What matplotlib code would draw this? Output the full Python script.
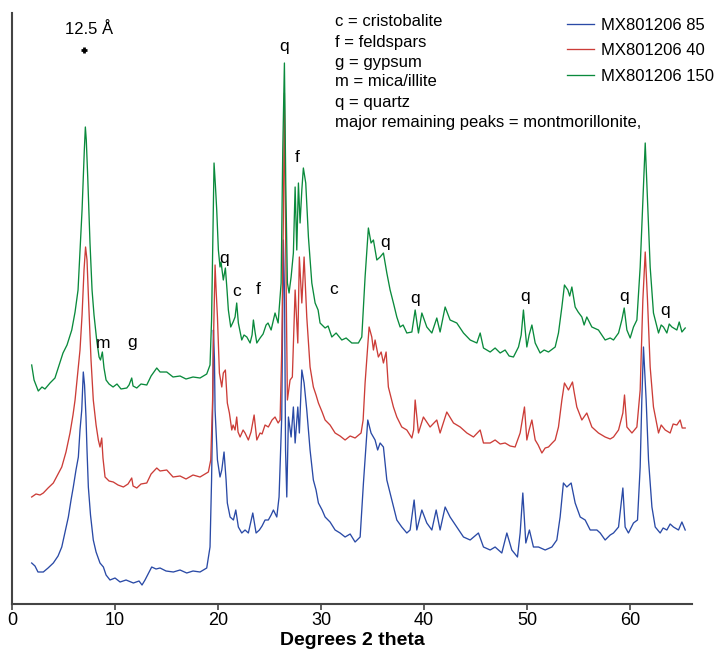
import matplotlib.pyplot as plt

# XRD patterns, stacked (offset already included in the counts)
theta_85 = [1.91, 2.23, 2.52, 3.04, 3.50, 4.01, 4.47, 4.83, 5.15, 5.47, 5.73, 5.95, 6.21, 6.44, 6.60, 6.77,
            6.92, 7.04, 7.18, 7.28, 7.41, 7.62, 7.89, 8.16, 8.54, 8.87, 9.13, 9.51, 10.00, 10.49, 11.07, 11.78,
            12.33, 12.62, 12.91, 13.56, 13.98, 14.37, 14.95, 15.66, 16.31, 16.96, 17.57, 18.25, 18.90, 19.22,
            19.37, 19.49, 19.55, 19.65, 19.71, 19.94, 20.19, 20.36, 20.58, 20.78, 20.90, 21.17, 21.49, 21.72,
            21.97, 22.30, 22.62, 22.94, 23.37, 23.69, 24.01, 24.27, 24.56, 24.88, 25.15, 25.37, 25.70, 25.92,
            26.18, 26.34, 26.46, 26.55, 26.67, 26.83, 27.09, 27.31, 27.48, 27.74, 27.89, 28.13, 28.35, 28.61,
            28.93, 29.25, 29.51, 29.74, 30.10, 30.39, 30.87, 31.36, 31.84, 32.33, 32.82, 33.30, 33.79, 34.11,
            34.53, 34.85, 35.24, 35.49, 35.73, 36.05, 36.38, 36.86, 37.35, 37.83, 38.32, 38.64, 39.03, 39.29,
            39.78, 40.26, 40.75, 41.17, 41.55, 42.04, 42.52, 43.17, 43.82, 44.47, 45.27, 45.76, 46.41, 46.89,
            47.54, 48.03, 48.51, 49.06, 49.32, 49.58, 49.87, 50.22, 50.61, 51.10, 51.75, 52.40, 52.88, 53.20,
            53.52, 53.85, 54.27, 54.66, 55.15, 55.63, 56.12, 56.77, 57.09, 57.57, 58.06, 58.38, 58.87, 59.29,
            59.51, 59.83, 60.32, 60.71, 60.97, 61.13, 61.29, 61.55, 61.78, 62.11, 62.43, 62.91, 63.20, 63.56,
            63.88, 64.20, 64.69, 65.02, 65.34]
counts_85 = [41, 38, 32, 32, 36, 41, 48, 57, 72, 87, 104, 117, 134, 147, 174, 194,
             232, 219, 187, 154, 117, 89, 64, 52, 41, 37, 29, 24, 26, 22, 24, 21,
             23, 19, 24, 37, 35, 36, 33, 32, 34, 31, 33, 32, 36, 57,
             124, 204, 274, 244, 194, 144, 127, 134, 152, 124, 101, 87, 84, 94,
             77, 71, 74, 71, 91, 71, 74, 78, 84, 84, 89, 94, 87, 107,
             187, 364, 304, 154, 107, 187, 167, 197, 161, 197, 171, 234, 221, 194,
             154, 124, 114, 101, 94, 87, 82, 74, 71, 67, 70, 62, 67, 121,
             184, 171, 164, 154, 161, 157, 124, 104, 84, 77, 71, 74, 104, 74,
             94, 81, 74, 94, 74, 97, 87, 77, 67, 64, 71, 57, 54, 57,
             51, 71, 54, 47, 71, 111, 61, 74, 57, 57, 54, 57, 64, 87,
             121, 117, 121, 101, 87, 84, 74, 74, 71, 64, 69, 71, 77, 116,
             77, 71, 81, 84, 137, 204, 257, 204, 144, 97, 77, 71, 76, 74,
             80, 77, 74, 82, 74]

theta_40 = [1.91, 2.33, 2.72, 3.04, 3.50, 4.01, 4.47, 4.83, 5.24, 5.63, 5.92, 6.12, 6.31, 6.60, 6.80, 6.99,
            7.14, 7.28, 7.43, 7.67, 7.89, 8.16, 8.38, 8.54, 8.71, 8.83, 9.03, 9.42, 9.83, 10.29, 10.81, 11.26,
            11.62, 11.75, 12.11, 12.52, 13.08, 13.50, 14.05, 14.37, 15.02, 15.63, 16.31, 16.89, 17.57, 18.25,
            19.06, 19.29, 19.47, 19.55, 19.71, 19.81, 19.94, 20.13, 20.36, 20.51, 20.71, 20.90, 21.10, 21.33,
            21.46, 21.65, 21.81, 21.94, 22.14, 22.43, 22.62, 22.94, 23.20, 23.50, 23.76, 24.08, 24.27, 24.56,
            24.88, 25.24, 25.53, 25.83, 26.02, 26.18, 26.34, 26.44, 26.57, 26.73, 26.99, 27.21, 27.48, 27.74,
            27.89, 28.13, 28.35, 28.61, 28.93, 29.25, 29.51, 29.74, 30.10, 30.39, 30.87, 31.36, 31.84, 32.33,
            32.82, 33.30, 33.88, 34.08, 34.27, 34.66, 34.92, 35.08, 35.24, 35.56, 35.83, 36.05, 36.31, 36.53,
            37.02, 37.35, 37.83, 38.32, 38.81, 38.98, 39.13, 39.45, 39.93, 40.58, 41.23, 41.55, 42.20, 42.85,
            43.50, 44.15, 44.79, 45.44, 45.76, 46.41, 46.89, 47.38, 47.86, 48.35, 48.83, 49.32, 49.74, 49.97,
            50.19, 50.46, 50.78, 51.07, 51.43, 51.75, 52.07, 52.43, 52.72, 53.04, 53.37, 53.62, 54.01, 54.40,
            54.56, 54.82, 55.31, 55.79, 56.28, 56.60, 56.92, 57.57, 58.06, 58.38, 58.87, 59.29, 59.45, 59.68,
            60.17, 60.65, 60.97, 61.23, 61.46, 61.68, 61.94, 62.26, 62.75, 63.01, 63.40, 63.88, 64.17, 64.53,
            64.85, 65.05, 65.34]
counts_40 = [107, 110, 109, 111, 116, 121, 130, 137, 152, 171, 189, 204, 224, 254, 289, 334,
             357, 344, 304, 244, 204, 179, 164, 157, 166, 146, 127, 123, 122, 119, 117, 120,
             126, 118, 116, 120, 121, 130, 136, 133, 134, 127, 128, 125, 129, 127,
             132, 144, 204, 261, 339, 314, 287, 231, 217, 231, 234, 201, 191, 174,
             179, 174, 187, 172, 167, 174, 171, 164, 172, 189, 164, 171, 170, 179,
             177, 184, 187, 181, 184, 254, 387, 511, 354, 204, 224, 227, 314, 261,
             347, 301, 347, 287, 237, 217, 209, 201, 192, 184, 179, 171, 168, 164,
             168, 166, 171, 184, 221, 277, 267, 254, 264, 247, 252, 241, 252, 217,
             197, 187, 177, 174, 166, 174, 204, 171, 187, 177, 184, 171, 192, 181,
             177, 171, 167, 174, 161, 161, 164, 160, 161, 158, 157, 171, 197, 164,
             174, 184, 164, 159, 151, 156, 157, 161, 164, 177, 204, 221, 214, 222,
             212, 197, 184, 191, 177, 174, 171, 167, 165, 167, 174, 191, 209, 177,
             171, 177, 214, 304, 352, 304, 237, 197, 171, 179, 174, 171, 180, 179,
             184, 176, 176]

theta_150 = [1.91, 2.14, 2.55, 2.91, 3.20, 3.69, 4.17, 4.95, 5.34, 5.80, 6.12, 6.41, 6.60, 6.80, 7.02, 7.12,
             7.21, 7.35, 7.57, 7.77, 7.96, 8.22, 8.45, 8.59, 8.77, 8.93, 9.13, 9.42, 9.81, 10.19, 10.58, 11.14,
             11.36, 11.62, 11.75, 12.11, 12.52, 13.08, 13.50, 14.05, 14.37, 15.02, 15.63, 16.31, 16.89, 17.57,
             18.25, 18.90, 19.22, 19.37, 19.49, 19.61, 19.74, 19.87, 20.03, 20.19, 20.29, 20.51, 20.71, 20.87,
             21.00, 21.23, 21.46, 21.65, 21.81, 21.97, 22.30, 22.52, 22.79, 23.11, 23.30, 23.43, 23.59, 23.76,
             24.08, 24.37, 24.66, 24.85, 25.15, 25.53, 25.83, 26.12, 26.28, 26.44, 26.57, 26.73, 26.89, 27.09,
             27.31, 27.48, 27.64, 27.80, 27.96, 28.13, 28.28, 28.51, 28.77, 29.10, 29.42, 29.71, 29.90, 30.39,
             30.68, 31.04, 31.46, 32.01, 32.43, 32.98, 33.62, 33.95, 34.27, 34.59, 34.85, 35.08, 35.41, 35.73,
             36.05, 36.38, 36.70, 37.02, 37.35, 37.67, 37.96, 38.32, 38.81, 39.13, 39.45, 39.78, 40.26, 40.75,
             41.23, 41.55, 42.04, 42.52, 43.17, 43.82, 44.47, 45.12, 45.44, 45.76, 46.41, 46.89, 47.38, 47.86,
             48.25, 48.67, 49.16, 49.42, 49.64, 49.81, 49.97, 50.19, 50.46, 50.78, 51.26, 51.65, 52.07, 52.72,
             53.04, 53.37, 53.62, 53.95, 54.13, 54.34, 54.66, 54.95, 55.31, 55.53, 55.79, 56.28, 56.92, 57.57,
             58.06, 58.38, 58.87, 59.19, 59.42, 59.68, 60.00, 60.32, 60.65, 60.97, 61.23, 61.46, 61.68, 61.94,
             62.26, 62.75, 63.01, 63.23, 63.56, 63.79, 64.05, 64.53, 64.76, 65.02, 65.34]
counts_150 = [239, 224, 213, 217, 215, 221, 226, 251, 259, 274, 292, 314, 354, 394, 454, 477,
              464, 427, 361, 314, 289, 264, 247, 244, 252, 236, 224, 220, 217, 220, 215, 216,
              219, 226, 218, 216, 220, 219, 228, 236, 232, 232, 227, 228, 225, 227,
              226, 230, 239, 284, 361, 441, 419, 394, 354, 337, 342, 324, 336, 314,
              294, 277, 282, 287, 301, 281, 264, 269, 267, 261, 269, 284, 272, 261,
              266, 270, 279, 281, 274, 291, 281, 321, 454, 541, 421, 321, 311, 327,
              351, 417, 354, 421, 381, 414, 436, 421, 367, 321, 301, 294, 281, 276,
              278, 267, 271, 264, 266, 261, 261, 267, 327, 376, 361, 364, 344, 347,
              351, 331, 314, 301, 287, 277, 279, 271, 272, 294, 271, 291, 277, 271,
              286, 272, 297, 284, 281, 271, 264, 261, 271, 256, 252, 256, 251, 254,
              248, 247, 257, 269, 294, 274, 257, 269, 279, 261, 251, 254, 252, 257,
              271, 297, 319, 314, 308, 317, 297, 292, 287, 279, 287, 277, 274, 264,
              266, 264, 271, 284, 296, 274, 266, 277, 284, 337, 404, 461, 404, 337,
              291, 271, 279, 277, 271, 280, 277, 274, 282, 272, 276]

sample_labels = ["MX801206 85", "MX801206 40", "MX801206 150"]
line_colors = ["#2a4aa6", "#cc3d38", "#0a8a3c"]

# phase labels: (text, 2theta, height)
phase_marks = [("q", 26.41, 557), ("f", 27.67, 446), ("q", 20.58, 346), ("c", 21.84, 313),
               ("f", 23.88, 314), ("c", 31.26, 314), ("q", 36.21, 361), ("q", 39.13, 306),
               ("q", 49.81, 307), ("q", 59.42, 307), ("q", 63.40, 294), ("m", 8.83, 261),
               ("g", 11.65, 261)]

key_lines = ["c = cristobalite", "f = feldspars", "g = gypsum", "m = mica/illite", "q = quartz",
             "major remaining peaks = montmorillonite,"]

plt.rcParams['font.family'] = ['Liberation Sans', 'DejaVu Sans']

fig = plt.figure(figsize=(7.27, 6.53), dpi=100)
ax = fig.add_axes([12 / 727, 49 / 653, 680 / 727, 591 / 653])

for tt, cc, lab, col in zip([theta_85, theta_40, theta_150], [counts_85, counts_40, counts_150],
                            sample_labels, line_colors):
    ax.plot(tt, cc, color=col, lw=0.95, label=lab)

for txt, xx, yy in phase_marks:
    ax.text(xx, yy, txt, fontsize=12.5, ha='center', va='center')

# 12.5 Angstrom basal spacing marker
ax.text(7.48, 574, "12.5 Å", fontsize=12, ha='center', va='center')
ax.plot([6.99], [554], marker='+', color='black', ms=5, mew=2)

# key of phase abbreviations, one line per text
for i, line in enumerate(key_lines):
    ax.text(31.36, 582 - 20 * i, line, fontsize=12, ha='left', va='center')

ax.legend(loc='upper left', bbox_to_anchor=(0.816, 0.992), frameon=False, fontsize=12,
          handlelength=1.6, handletextpad=0.45, labelspacing=0.63, borderpad=0, borderaxespad=0)

ax.set_xlim(0, 66)
ax.set_ylim(0, 591)
ax.set_yticks([])
ax.set_xticks([0, 10, 20, 30, 40, 50, 60])
ax.spines['top'].set_visible(False)
ax.spines['right'].set_visible(False)
for s in ['left', 'bottom']:
    ax.spines[s].set_linewidth(1.5)
    ax.spines[s].set_color('#444444')
ax.tick_params(axis='x', direction='out', length=4, width=1.2, color='#444444', labelsize=13, pad=2)
ax.set_xlabel("Degrees 2 theta", fontsize=14, fontweight='bold', labelpad=2)

fig.savefig("out.png", dpi=100)
